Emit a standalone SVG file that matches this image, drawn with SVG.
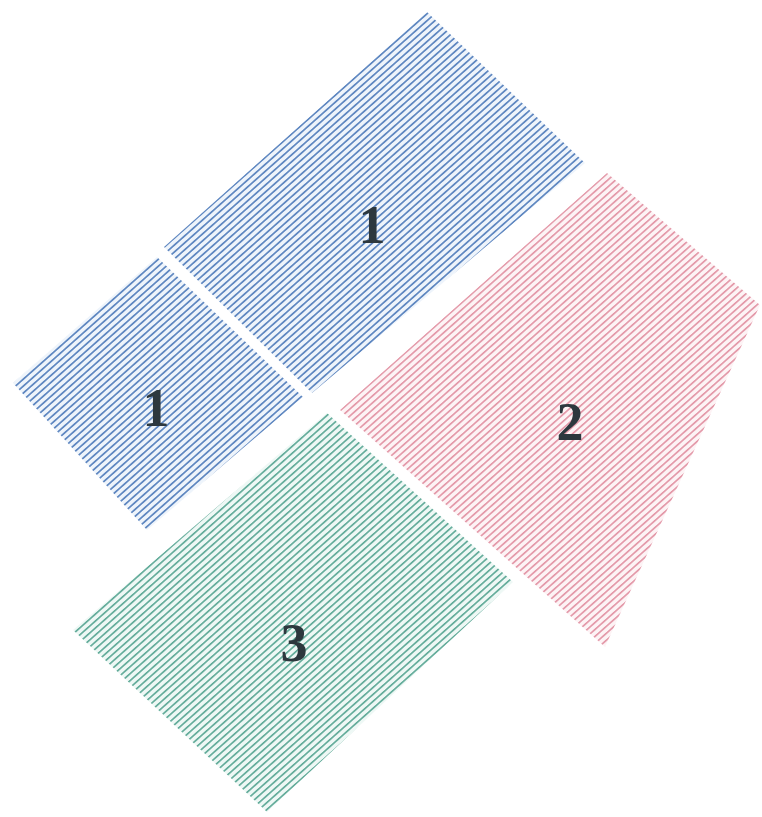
<svg xmlns="http://www.w3.org/2000/svg" width="762" height="817" viewBox="0 0 762 817">
  <defs>
    <pattern id="hBlue" patternUnits="userSpaceOnUse" width="24" height="5.2" patternTransform="rotate(-41.6)">
      <rect width="24" height="5.2" fill="#eef4fb"/>
      <rect y="1.9" width="24" height="1.4" fill="#3f6fb4"/>
    </pattern>
    <pattern id="hRed" patternUnits="userSpaceOnUse" width="24" height="5.2" patternTransform="rotate(-41.6)">
      <rect width="24" height="5.2" fill="#fdf3f5"/>
      <rect y="1.9" width="24" height="1.3" fill="#dc7f93"/>
    </pattern>
    <pattern id="hGreen" patternUnits="userSpaceOnUse" width="24" height="5.2" patternTransform="rotate(-41.6)">
      <rect width="24" height="5.2" fill="#eef8f5"/>
      <rect y="1.9" width="24" height="1.3" fill="#3b9680"/>
    </pattern>
    <style>
      .lbl { font-family: "Liberation Serif", "DejaVu Serif", serif; font-weight: bold; font-size: 54px; fill: #2d383e; text-anchor: middle; }
    </style>
  </defs>
  <rect width="762" height="817" fill="#ffffff"/>

  <g id="region-1-large">
    <polygon points="164,247 427,12 585,163 312,393" fill="url(#hBlue)"/>
    <text class="lbl" x="372" y="243">1</text>
  </g>

  <g id="region-1-small">
    <polygon points="13,383 157,257 303,397 147,530" fill="url(#hBlue)"/>
    <text class="lbl" x="156" y="426">1</text>
  </g>

  <g id="region-2">
    <polygon points="340,410 607,173 760,305 605,647" fill="url(#hRed)"/>
    <text class="lbl" x="570" y="440">2</text>
  </g>

  <g id="region-3">
    <polygon points="73,630 327,413 513,582 267,812" fill="url(#hGreen)"/>
    <text class="lbl" x="294" y="661">3</text>
  </g>

  <g id="connectors"/>
</svg>
